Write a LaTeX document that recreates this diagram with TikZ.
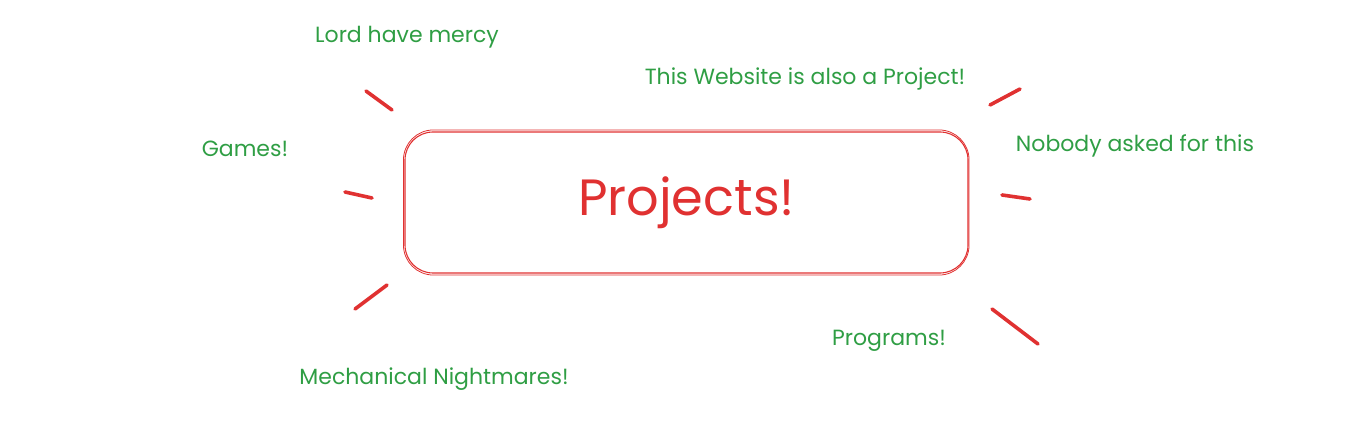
\documentclass[tikz,border=0pt]{standalone}
\usepackage{fontspec}
\setmainfont{Poppins}
\usetikzlibrary{positioning, calc}
\definecolor{exred}{HTML}{E03131}
\definecolor{exgreen}{HTML}{2F9E44}
\tikzset{
    mainbox/.style={rectangle, rounded corners=28pt, minimum width=563pt, minimum height=141pt, text centered, draw=exred, line width=1.1pt, text=exred, font=\fontsize{51}{55}\selectfont},
    sketchline/.style={draw=exred, line width=0.8pt, rounded corners=30pt},
    topic/.style={text=exgreen, font=\fontsize{22}{26}\selectfont, inner sep=0pt},
    ray/.style={draw=exred, line width=3.6pt, line cap=round}
}

\begin{document}
\begin{tikzpicture}[x=1pt, y=-1pt]
                \useasboundingbox (0,0) rectangle (1362,430);

                % Center box
                \node (projects) [mainbox] at (686.5,202.5) {Projects!};
                \draw [sketchline] ($(projects.north west)+(-1,-1.5)$) rectangle ($(projects.south east)+(0.5,1.5)$);

                % Topics around the box
                \node (lord) [topic] at (407,37) {Lord have mercy};
                \node (website) [topic] at (805,79) {This Website is also a Project!};
                \node (games) [topic] at (245,149) {Games!};
                \node (nobody) [topic] at (1135,146) {Nobody asked for this};
                \node (programs) [topic] at (889,341) {Programs!};
                \node (mech) [topic] at (434,379) {Mechanical Nightmares!};

                % Rays
                \coordinate (r1a) at (366,91);   \coordinate (r1b) at (392,110);
                \coordinate (r2a) at (345,192);  \coordinate (r2b) at (372,198);
                \coordinate (r3a) at (387,285);  \coordinate (r3b) at (355,309);
                \coordinate (r4a) at (990,105);  \coordinate (r4b) at (1020,89);
                \coordinate (r5a) at (1002,195); \coordinate (r5b) at (1030,199);
                \coordinate (r6a) at (992,309);  \coordinate (r6b) at (1038,344);
                \draw [ray] (r1a) -- (r1b);
                \draw [ray] (r2a) -- (r2b);
                \draw [ray] (r3a) -- (r3b);
                \draw [ray] (r4a) -- (r4b);
                \draw [ray] (r5a) -- (r5b);
                \draw [ray] (r6a) -- (r6b);

            \end{tikzpicture}
\end{document}
